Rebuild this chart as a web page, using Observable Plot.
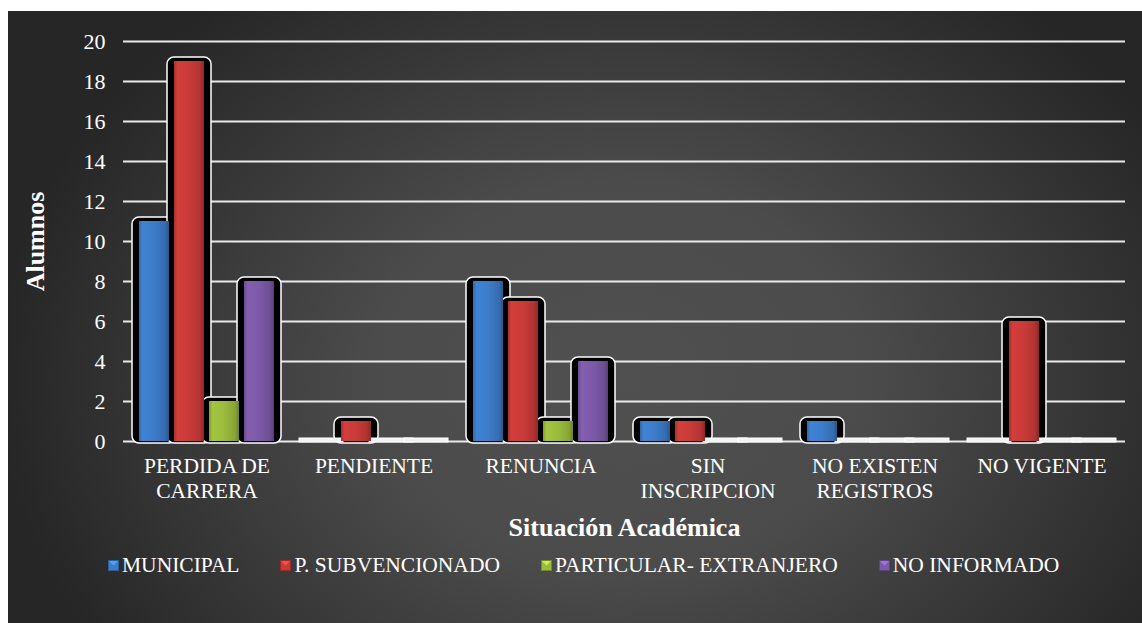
<!DOCTYPE html>
<html>
<head>
<meta charset="utf-8">
<script src="https://cdn.jsdelivr.net/npm/d3@7"></script>
<script src="https://cdn.jsdelivr.net/npm/@observablehq/plot@0.6"></script>
<style>
  html, body { margin: 0; padding: 0; background: #ffffff; }
  #frame {
    position: absolute; left: 8px; top: 11px; width: 1134px; height: 612px; overflow: hidden;
    background: radial-gradient(ellipse 55% 80% at 54% 60%, #505050 0%, #4b4b4b 40%, #262626 100%);
    font-family: "Liberation Serif", "Times New Roman", serif; color: #ffffff;
  }
  #chart { position: absolute; left: 0; top: 0; }
  #legend {
    position: absolute; left: 100px; top: 543px; display: flex; column-gap: 41px;
    font-size: 21.5px; line-height: 22px; white-space: nowrap;
  }
  .item { display: flex; align-items: center; }
  .item svg { margin-right: 3px; }
</style>
</head>
<body>
<div id="frame">
  <div id="chart"></div>
  <div id="legend"></div>
</div>
<script>
// ---- data ----
const categories = ["PERDIDA DE CARRERA", "PENDIENTE", "RENUNCIA", "SIN INSCRIPCION", "NO EXISTEN REGISTROS", "NO VIGENTE"];
const tickLabels = ["PERDIDA DE\nCARRERA", "PENDIENTE", "RENUNCIA", "SIN\nINSCRIPCION", "NO EXISTEN\nREGISTROS", "NO VIGENTE"];
const series = ["MUNICIPAL", "P. SUBVENCIONADO", "PARTICULAR- EXTRANJERO", "NO INFORMADO"];
const municipal = [11, 0, 8, 1, 1, 0];
const subvencionado = [19, 1, 7, 1, 0, 6];
const particularExtranjero = [2, 0, 1, 0, 0, 0];
const noInformado = [8, 0, 4, 0, 0, 0];
const yTicks = [0, 2, 4, 6, 8, 10, 12, 14, 16, 18, 20];
const yLabel = "Alumnos";
const xLabel = "Situación Académica";
const seriesColors = ["#3d7cc9", "#c93b39", "#9bbb3d", "#7d5aa8"];

const values = [municipal, subvencionado, particularExtranjero, noInformado];
const data = categories.flatMap((c, ci) => series.map((s, si) => ({category: c, series: s, value: values[si][ci]})));
const gradIds = series.map((s, i) => `bar-grad-${i}`);

const serif = "'Liberation Serif','Times New Roman',serif";

const plot = Plot.plot({
  width: 1134,
  height: 560,
  marginLeft: 112,
  marginRight: 15,
  marginTop: 30,
  marginBottom: 130,
  style: {background: "transparent", color: "#ffffff", fontFamily: serif, fontSize: "21.5px", overflow: "visible"},
  fx: {domain: categories, paddingInner: 0, paddingOuter: 0},
  x: {domain: series, paddingInner: 0.15, paddingOuter: 0.42, axis: null},
  y: {domain: [0, 20]},
  color: {domain: series, range: gradIds.map(id => `url(#${id})`)},
  marks: [
    Plot.gridY(yTicks, {stroke: "#e9e9e9", strokeOpacity: 1, strokeWidth: 2}),
    // shadows of non-zero bars
    Plot.barY(data, {filter: d => d.value > 0, fx: "category", x: "series", y: "value", fill: "#000000", stroke: "#ffffff", strokeWidth: 1.5,
      insetLeft: -7, insetRight: -7, insetTop: -4, insetBottom: -2, rx: 7}),
    // zero-value bars show as flat white slabs on the baseline
    Plot.barY(data, {filter: d => d.value === 0, fx: "category", x: "series", y: "value", fill: "#f2f2f2", stroke: "#ffffff", strokeWidth: 1,
      insetLeft: -7, insetRight: -7, insetTop: -3, insetBottom: -1}),
    Plot.barY(data, {fx: "category", x: "series", y: "value", fill: "series", ariaLabel: "colored-bars"}),
    Plot.axisY({ticks: yTicks, tickSize: 0, tickPadding: 18, fontSize: 22, fill: "#ffffff",
      label: yLabel, labelAnchor: "center", labelArrow: "none", labelOffset: 98}),
    Plot.axisFx({anchor: "bottom", tickSize: 0, tickPadding: 14, fontSize: 21.5, fill: "#ffffff", lineHeight: 1.16,
      tickFormat: d => tickLabels[categories.indexOf(d)],
      label: xLabel, labelAnchor: "center", labelArrow: "none", labelOffset: 94})
  ]
});

// gradients for the bars
const ns = "http://www.w3.org/2000/svg";
const defs = document.createElementNS(ns, "defs");
seriesColors.forEach((c, i) => {
  const g = document.createElementNS(ns, "linearGradient");
  g.setAttribute("id", gradIds[i]);
  g.setAttribute("x1", "0"); g.setAttribute("x2", "1"); g.setAttribute("y1", "0"); g.setAttribute("y2", "0");
  const base = d3.color(c);
  [[0, base.darker(0.5)], [0.12, base.brighter(0.15)], [0.5, base], [0.86, base.darker(0.35)], [1, base.darker(1.0)]].forEach(([o, col]) => {
    const s = document.createElementNS(ns, "stop");
    s.setAttribute("offset", o);
    s.setAttribute("stop-color", col.formatHex());
    g.appendChild(s);
  });
  defs.appendChild(g);
});
plot.insertBefore(defs, plot.firstChild);

// top bevel on each coloured bar
plot.querySelectorAll('g[aria-label="colored-bars"] rect').forEach(r => {
  const x = +r.getAttribute("x"), y = +r.getAttribute("y");
  const w = +r.getAttribute("width"), h = +r.getAttribute("height");
  if (!(h > 0)) return;
  const m = /bar-grad-(\d+)/.exec(r.getAttribute("fill") || "");
  const i = m ? +m[1] : 0;
  const d = Math.min(12, h * 0.55);
  const p = document.createElementNS(ns, "polygon");
  p.setAttribute("points", `${x},${y} ${x + w},${y} ${x + w / 2},${y + d}`);
  p.setAttribute("fill", d3.color(seriesColors[i]).brighter(0.7).formatHex());
  p.setAttribute("fill-opacity", "0.8");
  r.parentNode.appendChild(p);
});

// bold axis titles
plot.querySelectorAll("text").forEach(t => {
  const s = t.textContent.trim();
  if (s.startsWith(yLabel) || s.startsWith(xLabel)) {
    if (s.startsWith(yLabel)) t.textContent = yLabel; else t.textContent = xLabel;
    t.style.fontWeight = "bold";
    t.style.fontSize = "26px";
  }
});

document.getElementById("chart").appendChild(plot);

// legend
const legend = document.getElementById("legend");
series.forEach((s, i) => {
  const base = d3.color(seriesColors[i]);
  const item = document.createElement("div");
  item.className = "item";
  item.innerHTML = `<svg width="11" height="11"><rect x="0.5" y="0.5" width="10" height="10" fill="${base.formatHex()}" stroke="${base.darker(0.8).formatHex()}" stroke-width="1"/><polygon points="1,1 10,1 5.5,5.5" fill="${base.brighter(0.7).formatHex()}"/></svg><span>${s}</span>`;
  legend.appendChild(item);
});
</script>
</body>
</html>
